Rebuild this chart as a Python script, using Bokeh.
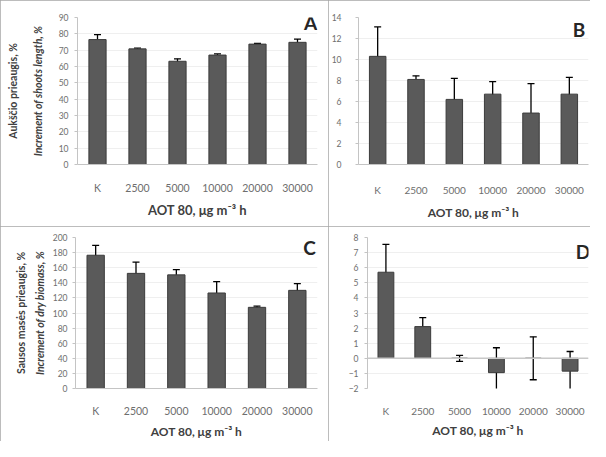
from bokeh.plotting import figure
from bokeh.models import (ColumnDataSource, FactorRange, Range1d, FixedTicker,
                          Whisker, TeeHead, Label, LinearAxis, Span)
from bokeh.layouts import row, column
from bokeh.embed import file_html
from bokeh.resources import INLINE

cats = ["K", "2500", "5000", "10000", "20000", "30000"]

a_vals = [76.5, 70.8, 63.2, 67.0, 73.7, 74.8]
a_err = [3.0, 0.5, 1.5, 0.7, 0.5, 2.0]
b_vals = [10.3, 8.1, 6.2, 6.7, 4.9, 6.7]
b_err = [2.8, 0.35, 2.0, 1.2, 2.8, 1.6]
c_vals = [176.5, 152.5, 150.5, 126.5, 107.5, 130.0]
c_err = [13.0, 15.0, 7.0, 15.0, 1.5, 9.0]
d_vals = [5.7, 2.1, 0.0, -0.95, 0.0, -0.85]
d_err = [1.85, 0.6, 0.2, 1.65, 1.42, 1.3]

x_title = "AOT 80, μg m⁻³ h"
a_ytitle = ["Aukščio prieaugis, %", "Increment of shoots length, %"]
c_ytitle = ["Sausos masės prieaugis, %", "Increment of dry biomass, %"]

FONT = "Lato"
BAR = "#5a5a5a"
AX = "#c4c4c4"
TXT = "#6e6e6e"


def panel(vals, errs, ymin, ymax, step, letter, lpos, w, h, mb, ytitle=None,
          xlab_size="10.5px", xlab_stand=11, xt_size="13px", xt_stand=5,
          ylab_stand=5, ytitle_stand=19, ytitle_stand2=10, zero=False):
    p = figure(width=w, height=h, x_range=FactorRange(factors=cats),
               y_range=Range1d(ymin, ymax), output_backend="svg",
               toolbar_location=None, min_border_left=mb[0], min_border_right=mb[1],
               min_border_top=mb[2], min_border_bottom=mb[3])
    p.outline_line_color = None
    p.background_fill_color = "white"
    p.border_fill_color = "white"
    p.xgrid.grid_line_color = None
    p.ygrid.grid_line_color = "#efefef"
    p.ygrid.ticker = FixedTicker(ticks=list(range(ymin, ymax + 1, step)))
    upper = [v + e for v, e in zip(vals, errs)]
    lower = [v - e for v, e in zip(vals, errs)]
    src = ColumnDataSource(dict(x=cats, top=vals, upper=upper, lower=lower))
    if zero:
        p.add_layout(Span(location=0, dimension="width", line_color="#c8c8c8",
                          line_width=1.5))
    p.vbar(x="x", top="top", bottom=0, width=0.43, source=src,
           fill_color=BAR, line_color="#3c3c3c", line_width=1)
    p.add_layout(Whisker(source=src, base="x", upper="upper", lower="lower",
                         line_color="black", line_width=1.3,
                         upper_head=TeeHead(size=7, line_color="black", line_width=1.3),
                         lower_head=TeeHead(size=7, line_color="black", line_width=1.3)))
    # x axis
    xa = p.xaxis[0]
    xa.axis_line_color = None if zero else AX
    xa.major_tick_line_color = None
    xa.minor_tick_line_color = None
    xa.major_label_text_font = FONT
    xa.major_label_text_font_size = xlab_size
    xa.major_label_text_color = TXT
    xa.major_label_standoff = xlab_stand
    xa.axis_label = x_title
    xa.axis_label_text_font = FONT
    xa.axis_label_text_font_style = "bold"
    xa.axis_label_text_font_size = xt_size
    xa.axis_label_text_color = "#404040"
    xa.axis_label_standoff = xt_stand
    # y axis
    ya = p.yaxis[0]
    ya.ticker = FixedTicker(ticks=list(range(ymin, ymax + 1, step)))
    ya.axis_line_color = AX
    ya.major_tick_line_color = AX
    ya.major_tick_out = 3
    ya.major_tick_in = 0
    ya.minor_tick_line_color = None
    ya.major_label_text_font = FONT
    ya.major_label_text_font_size = "8.5px"
    ya.major_label_text_color = TXT
    ya.major_label_standoff = ylab_stand
    if ytitle:
        ya.axis_label = ytitle[1]
        ya.axis_label_text_font = FONT
        ya.axis_label_text_font_style = "bold italic"
        ya.axis_label_text_font_size = "10.5px"
        ya.axis_label_text_color = "#404040"
        ya.axis_label_standoff = ytitle_stand
        ya2 = LinearAxis(ticker=FixedTicker(ticks=[]), axis_label=ytitle[0],
                         axis_line_color=None, major_tick_line_color=None,
                         minor_tick_line_color=None,
                         major_label_text_font_size="0px",
                         axis_label_text_font=FONT,
                         axis_label_text_font_style="bold",
                         axis_label_text_font_size="10.5px",
                         axis_label_text_color="#404040",
                         axis_label_standoff=ytitle_stand2)
        p.add_layout(ya2, "left")
    p.add_layout(Label(x=lpos[0], y=lpos[1], text=letter, text_font=FONT,
                       text_font_style="bold", text_font_size="19px",
                       text_color="#262626", text_align="center",
                       text_baseline="middle"))
    p.styles = {"outline": "1px solid #a6a6a6", "outline-offset": "-1px"}
    return p


pa = panel(a_vals, a_err, 0, 90, 10, "A", (5.83, 87), 328, 226, (77, 11, 17, 57),
           ytitle=a_ytitle, xlab_size="10.5px", xlab_stand=11, xt_size="13px",
           xt_stand=5, ylab_stand=6, ytitle_stand=12, ytitle_stand2=10)
pb = panel(b_vals, b_err, 0, 14, 2, "B", (5.75, 12.9), 262, 226, (29, 2, 12, 62),
           xlab_size="10px", xlab_stand=13, xt_size="12px", xt_stand=6,
           ylab_stand=14)
pc = panel(c_vals, c_err, 0, 200, 20, "C", (5.8, 187), 328, 215, (75, 11, 11, 43),
           ytitle=c_ytitle, xlab_size="10.5px", xlab_stand=10, xt_size="12px",
           xt_stand=4, ylab_stand=5, ytitle_stand=4, ytitle_stand2=4)
pd = panel(d_vals, d_err, -2, 8, 1, "D", (5.85, 7.1), 262, 215, (39, 2, 7, 39),
           xlab_size="10px", xlab_stand=10, xt_size="12px", xt_stand=3,
           ylab_stand=6, zero=True)

layout = column(row(pa, pb, spacing=0), row(pc, pd, spacing=0), spacing=0)

open("out.html", "w").write(file_html(layout, INLINE))
